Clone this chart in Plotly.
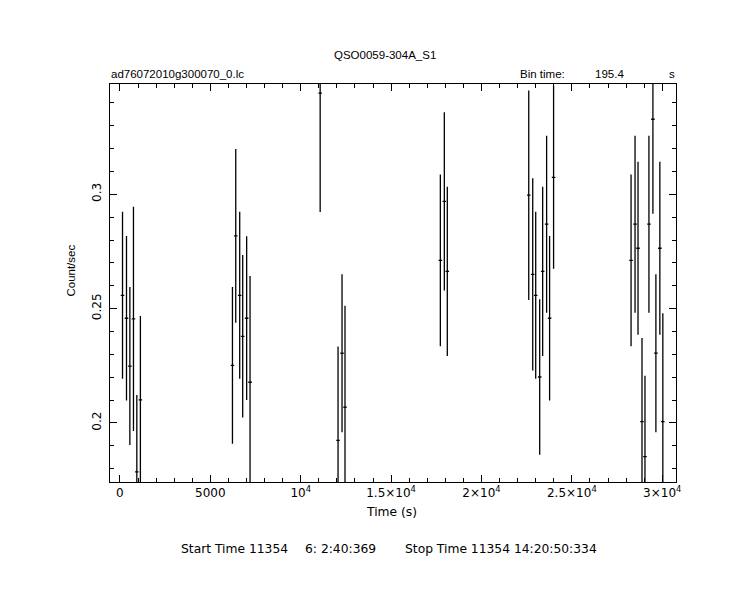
import plotly.graph_objects as go

# page has an 8px body margin, so the figure is drawn 8px in from the window corner
OFF = 8
W, H = 748 - OFF, 607 - OFF

# ---- data ----
time_s = [143, 363, 549, 749, 934, 1132,
          6225, 6407, 6626, 6791, 7011, 7198,
          11077, 12066, 12286, 12451,
          17725, 17945, 18110,
          22615, 22835, 23000, 23220, 23385, 23604, 23769, 23989,
          28275, 28495, 28660, 28880, 29044, 29264, 29484, 29649, 29868, 30033]
rate = [0.2558, 0.2458, 0.2249, 0.2455, 0.1786, 0.2101,
        0.2252, 0.2818, 0.2558, 0.2379, 0.2458, 0.2178,
        0.3442, 0.1924, 0.2305, 0.2069,
        0.2711, 0.2969, 0.2663,
        0.2996, 0.2650, 0.2558, 0.2201, 0.2663, 0.2869, 0.2458, 0.3074,
        0.2711, 0.2869, 0.2764, 0.2006, 0.1853, 0.2869, 0.3328, 0.2305, 0.2764, 0.2006]
rate_err = [0.0365, 0.0360, 0.0345, 0.0490, 0.0336, 0.0367,
            0.0343, 0.0380, 0.0365, 0.0355, 0.0358, 0.0465,
            0.0520, 0.0410, 0.0345, 0.0443,
            0.0375, 0.0390, 0.0370,
            0.0458, 0.0420, 0.0365, 0.0340, 0.0370, 0.0387, 0.0360, 0.0400,
            0.0375, 0.0387, 0.0378, 0.0366, 0.0353, 0.0387, 0.0413, 0.0345, 0.0378, 0.0474]
bin_time = 195.4
half_bin = [bin_time / 2] * len(time_s)

x_tickvals = [0, 5000, 10000, 15000, 20000, 25000, 30000]
x_ticktext = ["0", "5000", "10<sup>4</sup>", "1.5×10<sup>4</sup>", "2×10<sup>4</sup>",
              "2.5×10<sup>4</sup>", "3×10<sup>4</sup>"]
y_tickvals = [0.2, 0.25, 0.3]
y_ticktext = ["0.2", "0.25", "0.3"]

title_text = "QSO0059-304A_S1"
file_text = "ad76072010g300070_0.lc"
start_label = "Start Time 11354"
start_clock = "6: 2:40:369"
stop_text = "Stop Time 11354 14:20:50:334"

# ---- layout geometry (window pixels) ----
L, R, T, B = 110.7, 681.0, 84.0, 482.0
FONT = "Liberation Sans, Arial, sans-serif"
FONT2 = "DejaVu Sans, sans-serif"


def px(x):
    return (x - OFF) / W


def py(y):
    return 1 - (y - OFF) / H


fig = go.Figure()
fig.add_trace(go.Scatter(
    x=time_s, y=rate, mode="markers",
    marker=dict(size=1, color="black", opacity=0),
    error_x=dict(type="data", array=half_bin, color="black", thickness=1.3, width=0),
    error_y=dict(type="data", array=rate_err, color="black", thickness=1.3, width=0),
    showlegend=False, hoverinfo="skip",
))

axis_common = dict(
    showline=True, linecolor="black", linewidth=1, mirror="allticks",
    ticks="inside", ticklen=7, tickwidth=1, tickcolor="black",
    showgrid=False, zeroline=False,
    tickfont=dict(family=FONT2, size=12, color="black"),
)

fig.update_xaxes(
    range=[-549, 30786], tickvals=x_tickvals, ticktext=x_ticktext,
    domain=[px(L), px(R)],
    minor=dict(ticks="inside", ticklen=4, dtick=1000, tick0=0, tickcolor="black", showgrid=False),
    **axis_common,
)
fig.update_yaxes(
    range=[0.1742, 0.3482], tickvals=y_tickvals, ticktext=y_ticktext, tickangle=-90,
    domain=[py(B), py(T)], ticklabelstandoff=3,
    minor=dict(ticks="inside", ticklen=4, dtick=0.01, tick0=0, tickcolor="black", showgrid=False),
    **axis_common,
)

txt = dict(family=FONT, size=11.5, color="black")
txt2 = dict(family=FONT2, size=12.3, color="black")
annotations = [
    dict(text=title_text, x=px(388), y=py(55), xanchor="center", yanchor="middle", font=txt),
    dict(text=file_text, x=px(110), y=py(74), xanchor="left", yanchor="middle", font=txt),
    dict(text="Bin time:", x=px(521), y=py(74), xanchor="left", yanchor="middle", font=txt),
    dict(text=f"{bin_time}", x=px(630), y=py(74), xanchor="right", yanchor="middle", font=txt),
    dict(text="s", x=px(682), y=py(74), xanchor="right", yanchor="middle", font=txt),
    dict(text="Time (s)", x=px(394), y=py(512), xanchor="center", yanchor="middle", font=txt2),
    dict(text="Count/sec", x=px(71), y=py(271), xanchor="center", yanchor="middle",
         textangle=-90, font=txt),
    dict(text=start_label, x=px(180), y=py(549), xanchor="left", yanchor="middle", font=txt2),
    dict(text=start_clock, x=px(381), y=py(549), xanchor="right", yanchor="middle", font=txt2),
    dict(text=stop_text, x=px(603), y=py(549), xanchor="right", yanchor="middle", font=txt2),
]
for a in annotations:
    a.update(xref="paper", yref="paper", showarrow=False)

fig.update_layout(
    width=W, height=H,
    margin=dict(l=0, r=0, t=0, b=0, pad=0),
    paper_bgcolor="white", plot_bgcolor="white",
    annotations=annotations,
)

fig.write_html("out.html")
